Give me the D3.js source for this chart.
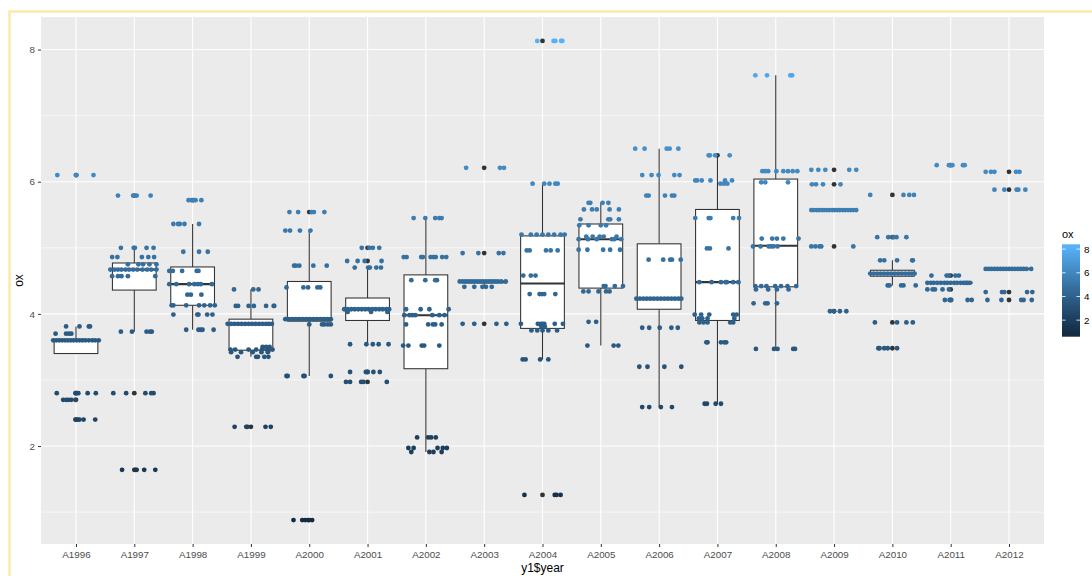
<!DOCTYPE html>
<html>
<head>
<meta charset="utf-8">
<script src="https://cdn.jsdelivr.net/npm/d3@7"></script>
<style>
body { margin: 0; background: #fff; }
svg { display: block; font-family: "Liberation Sans", Arial, sans-serif; }
</style>
</head>
<body>
<div id="chart"></div>
<script>

// categories
var years = ["A1996", "A1997", "A1998", "A1999", "A2000", "A2001", "A2002", "A2003",
    "A2004", "A2005", "A2006", "A2007", "A2008", "A2009", "A2010", "A2011", "A2012"];

// box statistics per year
var q1 =     [3.40, 4.36, 4.13, 3.45, 3.89, 3.90, 3.17, 4.47, 3.78, 4.39, 4.07, 3.90, 4.41, 5.57, 4.57, 4.47, 4.68];
var median = [3.60, 4.67, 4.45, 3.84, 3.93, 4.07, 3.98, 4.49, 4.46, 5.13, 4.23, 4.48, 5.03, 5.57, 4.61, 4.47, 4.68];
var q3 =     [3.60, 4.77, 4.71, 3.92, 4.49, 4.24, 4.59, 4.49, 5.18, 5.36, 5.06, 5.58, 6.04, 5.57, 4.66, 4.47, 4.68];
var whiskLo = [3.40, 3.73, 3.76, 3.35, 3.06, 3.54, 1.91, 4.41, 3.31, 3.52, 2.59, 2.64, 3.47, 5.57, 4.43, 4.47, 4.68];
var whiskHi = [3.81, 5.00, 5.36, 4.37, 5.26, 4.70, 5.45, 4.49, 5.97, 5.68, 6.50, 6.39, 7.61, 5.57, 4.81, 4.47, 4.68];

// observations: [ox value, [jitter offsets in category units]]
var pts1996 = [
    [6.10, [-.32, 0, .01, .30]],
    [3.81, [-.17, .06, .22, .24]],
    [3.70, [-.35, -.17, -.12, -.08]],
    [3.60, [-.39, -.34, -.29, -.24, -.19, -.14, -.09, -.04, .01, .06, .11, .16, .22, .28, .33, .39]],
    [2.80, [-.33, -.01, .01, .04, .20, .34]],
    [2.70, [-.22, -.17, -.13, -.08, -.01]],
    [2.40, [-.01, .03, .06, .13, .33]]
];
var pts1997 = [
    [5.79, [-.28, -.02, .04, .28]],
    [5.00, [-.23, -.01, .01, .21, .33]],
    [4.86, [-.38, -.29, .13, .24, .34]],
    [4.75, [-.11, .07, .15, .26, .38]],
    [4.67, [-.41, -.34, -.28, -.22, -.15, -.09, -.02, .05, .14, .22, .29, .38]],
    [4.57, [-.38, -.28, -.22, -.11, .36]],
    [3.73, [-.23, -.04, .21, .27, .30]],
    [2.80, [-.36, -.14, .19, .29, .33]],
    [1.64, [-.21, .02, .04, .17, .36]]
];
var pts1998 = [
    [5.72, [-.07, -.02, .02, .05, .15]],
    [5.36, [-.33, -.25, -.22, -.14, .11]],
    [4.94, [-.16, .11, .26]],
    [4.65, [-.40, -.34, -.18, .07, .10]],
    [4.45, [-.40, -.28, -.06, .03, .09, .14, .33]],
    [4.29, [-.09, -.03, .15]],
    [4.13, [-.36, -.33, -.11, .11, .20, .30, .38]],
    [3.99, [-.33, .08, .10, .25, .34]],
    [3.76, [-.11, .10, .14, .17, .36]]
];
var pts1999 = [
    [4.37, [-.29, .04, .13]],
    [4.12, [-.26, -.22, -.04, .05, .26, .39, .40]],
    [3.85, [-.40, -.34, -.28, -.22, -.16, -.10, -.04, .02, .08, .14, .20, .26, .31, .36]],
    [3.50, [.20, .26, .32]],
    [3.46, [-.35, -.27, -.04, .09, .19, .27, .32, .37]],
    [3.42, [-.34, -.17, .03, .18, .29]],
    [3.35, [-.23, .09, .12, .23, .30]],
    [2.29, [-.28, -.08, -.06, .25, .34]]
];
var pts2000 = [
    [5.54, [-.34, -.19, .04, .08, .26]],
    [5.26, [-.41, -.33, -.16, .02]],
    [4.73, [-.26, -.23, -.17, .07, .30]],
    [4.40, [-.39, -.10, -.02, .14, .19]],
    [3.92, [-.41, -.35, -.29, -.23, -.17, -.11, -.05, .01, .07, .13, .19, .25, .31, .37]],
    [3.84, [0, .22, .26, .32, .37]],
    [3.06, [-.39, -.37, -.10, -.08, .37]],
    [0.88, [-.27, -.12, -.07, -.02, .05]]
];
var pts2001 = [
    [5.00, [-.10, .03, .09, .20]],
    [4.80, [-.35, -.17, -.05, .24]],
    [4.70, [-.22, .01, .04, .15, .23]],
    [4.07, [-.40, -.34, -.28, -.22, -.16, -.10, -.04, .02, .08, .14, .20, .26, .32, .37]],
    [4.03, [-.34, .06, .34]],
    [3.54, [-.30, -.02, .09, .19, .36]],
    [3.12, [-.30, -.03, 0, .10, .21]],
    [2.97, [-.37, -.30, -.11, -.07, .33]]
];
var pts2002 = [
    [5.45, [-.21, -.01, .16, .23, .27]],
    [4.86, [-.38, -.33, -.08, -.05, .08, .13, .17, .28, .35]],
    [4.51, [-.25, -.01, .16, .19]],
    [4.07, [-.34, -.09, .06, .39]],
    [3.98, [-.37, -.28, -.23, -.18, .11, .23, .32]],
    [3.84, [-.34, .04, .12, .16, .27]],
    [3.52, [-.39, -.30, -.07, -.03, .23]],
    [2.13, [-.15, .04, .09, .17]],
    [1.97, [-.30, -.21, .20, .29, .36]],
    [1.91, [-.25, .06, .13, .27]]
];
var pts2003 = [
    [6.21, [-.31, .27, .34]],
    [4.92, [-.37, -.10, .25, .33]],
    [4.49, [-.42, -.37, -.32, -.27, -.22, -.17, -.12, -.07, -.02, .03, .08, .13, .18, .23, .29, .37]],
    [4.41, [-.34, -.17, -.03, .03, .13]],
    [3.85, [-.37, -.17, .21, .38]]
];
var pts2004 = [
    [8.13, [-.09, .19, .22, .32, .34]],
    [5.97, [-.17, .03, .12, .22, .26]],
    [5.20, [-.36, -.20, -.10, 0, .10, .20, .31, .38]],
    [4.96, [-.27, -.22, .06, .14, .26]],
    [4.58, [-.33, -.20, -.12]],
    [4.30, [-.22, -.05, -.01, .03, .22]],
    [3.85, [-.37, -.08, -.03, 0, .03, .21, .35]],
    [3.81, [-.02, .02, .04]],
    [3.75, [-.19, -.09, 0, .10, .25]],
    [3.31, [-.34, -.29, -.04, .10]],
    [1.26, [-.31, .21, .24, .31]]
];
var pts2005 = [
    [5.68, [-.21, -.18, .03, .13]],
    [5.58, [-.29, -.15, -.07, .15, .31]],
    [5.43, [-.35, .13, .16, .31]],
    [5.34, [-.37, -.21, 0, .09]],
    [5.17, [-.25, -.14, -.02, .05, .27]],
    [5.13, [-.38, -.22, -.07, .19, .23, .35]],
    [4.97, [-.38, -.23, .04, .16, .33]],
    [4.42, [.05, .08, .24, .38]],
    [4.34, [-.30, -.21, -.04, .09, .15]],
    [3.88, [-.21, -.08]],
    [3.52, [-.23, .22, .30]]
];
var pts2006 = [
    [6.50, [-.41, -.25, .13, .18, .33]],
    [6.10, [-.29, -.13, -.01, .26, .35]],
    [5.79, [-.22, -.18, .10, .22, .26]],
    [4.82, [-.18, .07, .19, .22, .37]],
    [4.23, [-.39, -.33, -.27, -.21, -.15, -.09, -.03, .03, .09, .15, .21, .27, .33, .38]],
    [3.79, [-.29, -.17, .01, .21, .32]],
    [3.20, [-.34, -.20, .09, .38]],
    [2.59, [-.29, -.17, .03, .22]]
];
var pts2007 = [
    [6.40, [-.15, -.13, -.04, .21]],
    [6.02, [-.38, -.35, -.27, -.12, .13, .25]],
    [5.97, [.05, .11, .17]],
    [5.45, [-.38, -.15, -.12, .27, .37]],
    [4.99, [-.18, -.13, .19]],
    [4.48, [-.31, -.10, .06, .14, .16, .27, .36]],
    [3.99, [-.39, -.28, -.14, .27, .33]],
    [3.93, [-.32, -.26, -.17, .29]],
    [3.87, [-.31, -.24, -.17, .22, .27]],
    [3.57, [-.19, -.17, .06, .12, .15]],
    [2.64, [-.22, -.18, -.03, .06]]
];
var pts2008 = [
    [7.61, [-.35, -.15, .25, .28]],
    [6.16, [-.23, -.18, -.13, .01, .13, .21, .29, .37]],
    [5.99, [-.25, -.18, .21]],
    [5.14, [-.24, -.06, .02, .13, .39]],
    [5.02, [-.39, -.26, -.12, -.08, -.04, .03]],
    [4.42, [-.35, -.25, -.16, -.01, .09, .20, .35]],
    [4.37, [-.34, -.13, .02, .22]],
    [4.16, [-.38, -.18, -.14, .02]],
    [3.47, [-.34, -.03, .03, .30, .33]]
];
var pts2009 = [
    [6.18, [-.39, -.27, -.15, .26, .38]],
    [5.96, [-.38, -.31, -.19, .11]],
    [5.57, [-.39, -.35, -.30, -.26, -.21, -.17, -.12, -.08, -.03, .01, .06, .10, .15, .19, .24, .28, .33, .38]],
    [5.02, [-.39, -.32, -.25, -.22, .33]],
    [4.04, [-.07, 0, .10, .21]]
];
var pts2010 = [
    [5.80, [-.38, .19, .29, .37]],
    [5.16, [-.26, -.07, .02, .07, .24]],
    [4.81, [-.21, -.14, .08, .34, .35]],
    [4.61, [-.38, -.32, -.26, -.20, -.14, -.08, -.02, .04, .10, .16, .22, .28, .33, .38]],
    [4.43, [-.08, -.05, .15, .19, .40]],
    [3.87, [-.30, .08, .24, .35]],
    [3.48, [-.24, -.22, -.14, -.08, .08]]
];
var pts2011 = [
    [6.25, [-.24, -.03, 0, .03, .21, .24]],
    [4.58, [-.33, -.07, -.03, .08, .14]],
    [4.47, [-.40, -.34, -.29, -.23, -.17, -.11, -.06, 0, .06, .11, .17, .22, .26, .29, .33]],
    [4.37, [-.40, -.31, -.27, -.14, -.03]],
    [4.21, [-.10, -.02, .01, .29, .36]]
];
var pts2012 = [
    [6.15, [-.40, -.31, -.25, .12, .18]],
    [5.88, [-.25, -.08, .13, .16, .28]],
    [4.68, [-.40, -.35, -.30, -.25, -.20, -.15, -.10, -.05, 0, .05, .10, .15, .20, .25, .30, .38]],
    [4.33, [-.40, -.12, -.08, .31, .40]],
    [4.21, [-.37, -.13, .21, .25, .39]]
];
var points = [pts1996, pts1997, pts1998, pts1999, pts2000, pts2001, pts2002, pts2003,
    pts2004, pts2005, pts2006, pts2007, pts2008, pts2009, pts2010, pts2011, pts2012];

// axis ticks
var yMajor = [2, 4, 6, 8];
var yMinor = [1, 3, 5, 7];
var legendTicks = [2, 4, 6, 8];


// layout
var W = 1092, H = 576;
var panel = {left: 41, right: 1044, top: 17, bottom: 544};
var bar = {x: 1062, y0: 244.3, y1: 336.7, w: 18};

var svg = d3.select("#chart").append("svg")
        .attr("width", W).attr("height", H);

// screenshot frame
svg.append("path").attr("d", "M9.5," + H + "V11.5H" + W)
        .attr("fill", "none").attr("stroke", "#fce9a8").attr("stroke-width", 2.5);

// flatten observations
var all = [];
points.forEach(function (rows, i) {
    rows.forEach(function (r) {
        r[1].forEach(function (j) {
            all.push({year: years[i], value: r[0], jit: j});
        });
    });
});

var ext = d3.extent(all, function (d) { return d.value; });
var pad = (ext[1] - ext[0]) * 0.05;
var y = d3.scaleLinear().domain([ext[0] - pad, ext[1] + pad])
        .range([panel.bottom, panel.top]);
var x = d3.scalePoint().domain(years).range([panel.left, panel.right]).padding(0.6);
var step = x.step();
var color = d3.scaleLinear().domain(ext).range(["#132B43", "#56B1F7"])
        .interpolate(d3.interpolateLab);

// panel background and grid
svg.append("rect").attr("x", panel.left).attr("y", panel.top)
        .attr("width", panel.right - panel.left).attr("height", panel.bottom - panel.top)
        .attr("fill", "#ebebeb");
svg.selectAll(".yminor").data(yMinor).enter().append("line")
        .attr("x1", panel.left).attr("x2", panel.right)
        .attr("y1", function (d) { return y(d); }).attr("y2", function (d) { return y(d); })
        .attr("stroke", "#fff").attr("stroke-width", 0.6);
svg.selectAll(".ymajor").data(yMajor).enter().append("line")
        .attr("x1", panel.left).attr("x2", panel.right)
        .attr("y1", function (d) { return y(d); }).attr("y2", function (d) { return y(d); })
        .attr("stroke", "#fff").attr("stroke-width", 1.1);
svg.selectAll(".xmajor").data(years).enter().append("line")
        .attr("y1", panel.top).attr("y2", panel.bottom)
        .attr("x1", function (d) { return x(d); }).attr("x2", function (d) { return x(d); })
        .attr("stroke", "#fff").attr("stroke-width", 1.1);

// axes
var gy = svg.append("g").attr("transform", "translate(" + panel.left + ",0)")
        .call(d3.axisLeft(y).tickValues(yMajor).tickSize(3).tickPadding(3));
var gx = svg.append("g").attr("transform", "translate(0," + panel.bottom + ")")
        .call(d3.axisBottom(x).tickSize(3).tickPadding(4.5));
[gx, gy].forEach(function (g) {
    g.select(".domain").remove();
    g.selectAll(".tick line").attr("stroke", "#333");
    g.selectAll(".tick text").attr("fill", "#4d4d4d")
            .style("font-size", "9.8px").style("font-family", "'Liberation Sans', Arial, sans-serif");
});

// axis titles
svg.append("text").text("y1$year")
        .attr("x", (panel.left + panel.right) / 2).attr("y", 572)
        .attr("text-anchor", "middle").attr("font-size", "12px").attr("fill", "#000");
svg.append("text").text("ox")
        .attr("transform", "translate(23," + (panel.top + panel.bottom) / 2 + ") rotate(-90)")
        .attr("text-anchor", "middle").attr("font-size", "12px").attr("fill", "#000");

// boxplots
var boxes = years.map(function (yr, i) {
    return {year: yr, q1: q1[i], med: median[i], q3: q3[i], lo: whiskLo[i], hi: whiskHi[i]};
});
var half = step * 0.75 / 2;
var gb = svg.append("g");
boxes.forEach(function (b) {
    var cx = x(b.year);
    gb.append("line").attr("x1", cx).attr("x2", cx)
            .attr("y1", y(b.q3)).attr("y2", y(b.hi))
            .attr("stroke", "#333").attr("stroke-width", 1.07);
    gb.append("line").attr("x1", cx).attr("x2", cx)
            .attr("y1", y(b.q1)).attr("y2", y(b.lo))
            .attr("stroke", "#333").attr("stroke-width", 1.07);
    gb.append("rect").attr("x", cx - half).attr("width", half * 2)
            .attr("y", y(b.q3)).attr("height", Math.max(0, y(b.q1) - y(b.q3)))
            .attr("fill", "#fff").attr("stroke", "#333").attr("stroke-width", 1.07);
    gb.append("line").attr("x1", cx - half).attr("x2", cx + half)
            .attr("y1", y(b.med)).attr("y2", y(b.med))
            .attr("stroke", "#333").attr("stroke-width", 2.1);
});

// outliers (outside whiskers), drawn at category centre
var outliers = [];
points.forEach(function (rows, i) {
    rows.forEach(function (r) {
        if (r[0] < whiskLo[i] - 1e-9 || r[0] > whiskHi[i] + 1e-9) {
            outliers.push({year: years[i], value: r[0]});
        }
    });
});
svg.append("g").selectAll("circle").data(outliers).enter().append("circle")
        .attr("cx", function (d) { return x(d.year); })
        .attr("cy", function (d) { return y(d.value); })
        .attr("r", 2.4).attr("fill", "#333");

// jittered points
svg.append("g").selectAll("circle").data(all).enter().append("circle")
        .attr("cx", function (d) { return x(d.year) + d.jit * step; })
        .attr("cy", function (d) { return y(d.value); })
        .attr("r", 2.4)
        .attr("fill", function (d) { return color(d.value); });

// legend colourbar
var ly = d3.scaleLinear().domain(ext).range([bar.y1 - 3.3, bar.y0 + 3.3]);
var grad = svg.append("defs").append("linearGradient").attr("id", "cbar")
        .attr("x1", 0).attr("x2", 0).attr("y1", 1).attr("y2", 0);
d3.range(0, 1.0001, 0.1).forEach(function (t) {
    var v = ext[0] + t * (ext[1] - ext[0]);
    grad.append("stop").attr("offset", ((bar.y1 - ly(v)) / (bar.y1 - bar.y0)))
            .attr("stop-color", color(v));
});
grad.insert("stop", ":first-child").attr("offset", 0).attr("stop-color", color(ext[0]));
grad.append("stop").attr("offset", 1).attr("stop-color", color(ext[1]));

svg.append("text").text("ox").attr("x", bar.x).attr("y", 238)
        .attr("font-size", "11px").attr("fill", "#000");
svg.append("rect").attr("x", bar.x).attr("y", bar.y0)
        .attr("width", bar.w).attr("height", bar.y1 - bar.y0)
        .attr("fill", "url(#cbar)");
legendTicks.forEach(function (t) {
    var ty = ly(t);
    svg.append("line").attr("x1", bar.x).attr("x2", bar.x + 3.6)
            .attr("y1", ty).attr("y2", ty).attr("stroke", "#fff").attr("stroke-width", 0.8);
    svg.append("line").attr("x1", bar.x + bar.w - 3.6).attr("x2", bar.x + bar.w)
            .attr("y1", ty).attr("y2", ty).attr("stroke", "#fff").attr("stroke-width", 0.8);
    svg.append("text").text(t).attr("x", bar.x + bar.w + 4).attr("y", ty)
            .attr("dy", "0.35em").attr("font-size", "9.8px").attr("fill", "#000");
});

</script>
</body>
</html>
